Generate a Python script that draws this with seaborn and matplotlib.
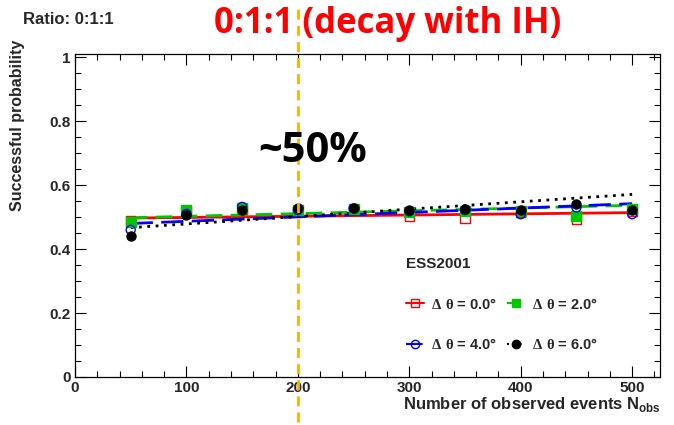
import matplotlib
matplotlib.use("Agg")
import matplotlib.pyplot as plt
from matplotlib.lines import Line2D
from matplotlib.ticker import MultipleLocator
import seaborn as sns
import pandas as pd

# Observed event counts
n_obs = [50, 100, 150, 200, 250, 300, 350, 400, 450, 500]

# Successful probability per smearing angle
p_dtheta0 = [0.488, 0.520, 0.525, 0.521, 0.525, 0.502, 0.496, 0.514, 0.491, 0.519]
p_dtheta2 = [0.486, 0.521, 0.527, 0.521, 0.526, 0.515, 0.519, 0.520, 0.504, 0.525]
p_dtheta4 = [0.460, 0.510, 0.532, 0.522, 0.527, 0.518, 0.522, 0.509, 0.530, 0.509]
p_dtheta6 = [0.440, 0.506, 0.521, 0.527, 0.530, 0.523, 0.526, 0.521, 0.542, 0.521]

# Linear fit values at N_obs = 50 and N_obs = 500
fit_x = [50, 500]
fit_dtheta0 = [0.497, 0.514]
fit_dtheta2 = [0.498, 0.537]
fit_dtheta4 = [0.480, 0.542]
fit_dtheta6 = [0.467, 0.571]

labels = ["0.0", "2.0", "4.0", "6.0"]

sns.set_theme(style="ticks")
plt.rcParams["font.family"] = ["Liberation Sans", "DejaVu Sans"]
plt.rcParams["font.weight"] = "bold"
plt.rcParams["mathtext.fontset"] = "custom"
plt.rcParams["mathtext.rm"] = "Liberation Serif"
plt.rcParams["mathtext.bf"] = "Liberation Sans:bold"

fig = plt.figure(figsize=(6.74, 4.25), dpi=100)
ax = fig.add_axes([75 / 674, 48 / 425, 585 / 674, 323 / 425])

series = [
    dict(p=p_dtheta0, fit=fit_dtheta0, color="#ff0000", ls="-", marker="s", filled=False),
    dict(p=p_dtheta2, fit=fit_dtheta2, color="#00c800", ls=(0, (6, 3)), marker="s", filled=True),
    dict(p=p_dtheta4, fit=fit_dtheta4, color="#0000ff", ls=(0, (8, 3)), marker="o", filled=False),
    dict(p=p_dtheta6, fit=fit_dtheta6, color="#000000", ls=(0, (1, 2)), marker="o", filled=True),
]

handles = []
for s, lab in zip(series, labels):
    fit_df = pd.DataFrame({"n": fit_x, "p": s["fit"]})
    sns.lineplot(data=fit_df, x="n", y="p", ax=ax, color=s["color"],
                 linestyle=s["ls"], linewidth=2.0, zorder=2)
    pts = pd.DataFrame({"n": n_obs, "p": s["p"]})
    face = s["color"] if s["filled"] else "none"
    sns.scatterplot(data=pts, x="n", y="p", ax=ax, marker=s["marker"], s=42,
                    facecolor=face, edgecolor=s["color"], linewidth=1.0, zorder=3)
    handles.append(Line2D([], [], color=s["color"], linestyle=s["ls"], linewidth=1.5,
                          marker=s["marker"], markersize=6,
                          markerfacecolor=face, markeredgecolor=s["color"],
                          label=r"$\mathrm{\Delta}\ \mathrm{\theta}$" + f" = {lab}\u00b0"))

ax.set_xlim(0, 525)
ax.set_ylim(0, 1.01)
ax.xaxis.set_major_locator(MultipleLocator(100))
ax.xaxis.set_minor_locator(MultipleLocator(20))
ax.yaxis.set_major_locator(MultipleLocator(0.2))
ax.yaxis.set_minor_locator(MultipleLocator(0.05))
ax.tick_params(which="both", direction="in", top=True, right=True, labelsize=11,
               color="black", width=0.8, pad=3)
ax.tick_params(which="major", length=8)
ax.tick_params(which="minor", length=4)
ax.set_xticks([0, 100, 200, 300, 400, 500])
ax.set_xticklabels(["0", "100", "200", "300", "400", "500"], fontweight="bold")
ax.set_yticks([0, 0.2, 0.4, 0.6, 0.8, 1.0])
ax.set_yticklabels(["0", "0.2", "0.4", "0.6", "0.8", "1"], fontweight="bold")
for sp in ax.spines.values():
    sp.set_color("black")
    sp.set_linewidth(0.9)
ax.set_xlabel("")
ax.set_ylabel("")

# Axis titles, aligned to the axis ends
fig.text(661 / 674, 1 - 404 / 425, r"Number of observed events N$_{\mathregular{obs}}$",
         ha="right", va="center", fontsize=12, fontweight="bold")
fig.text(18 / 674, 1 - 40 / 425, "Successful probability", rotation=90,
         ha="center", va="top", fontsize=11.5, fontweight="bold")

# Reference line at N_obs = 200
ax.axvline(200, ymin=-0.14, ymax=1.15, clip_on=False, color="#f5b400",
           linestyle=(0, (3.6, 2.2)), linewidth=2.0, zorder=5)

# Legend in two columns
order = [0, 2, 1, 3]
leg = ax.legend(handles=[handles[i] for i in order], ncol=2, frameon=False,
                title="ESS2001", loc="upper left", bbox_to_anchor=(0.544, 0.412),
                fontsize=10.5, title_fontsize=11, labelspacing=1.75,
                columnspacing=0.7, handlelength=1.2, handletextpad=0.5,
                alignment="left")
leg.get_title().set_fontweight("bold")

# Annotations
fig.text(23 / 674, 1 - 19 / 425, "Ratio: 0:1:1", ha="left", va="center",
         fontsize=12, fontweight="bold")
fig.text(388 / 674, 1 - 24 / 425, "0:1:1 (decay with IH)", ha="center", va="center",
         fontsize=25, fontweight="bold", color="#ff0000", family=["Open Sans", "DejaVu Sans"])
fig.text(313 / 674, 1 - 152 / 425, "~50%", ha="center", va="center",
         fontsize=30, fontweight="bold", color="black", family=["Open Sans", "DejaVu Sans"])

fig.savefig("out.png", dpi=100)
